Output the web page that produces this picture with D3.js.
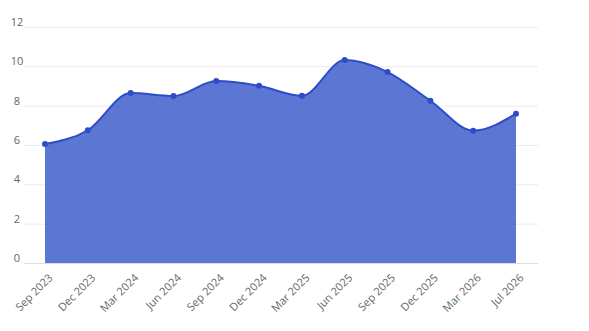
<!DOCTYPE html>
<html>
<head>
<meta charset="utf-8">
<script src="https://cdn.jsdelivr.net/npm/d3@7/dist/d3.min.js"></script>
<style>
  body { margin: 0; background: #fff; }
  text { font-family: "Open Sans", sans-serif; }
</style>
</head>
<body>
<div id="chart"></div>
<script>
// chart data
var months = ["Sep 2023", "Dec 2023", "Mar 2024", "Jun 2024", "Sep 2024", "Dec 2024",
              "Mar 2025", "Jun 2025", "Sep 2025", "Dec 2025", "Mar 2026", "Jul 2026"];
var values = [6.05, 6.75, 8.64, 8.49, 9.25, 9.01, 8.5, 10.32, 9.71, 8.25, 6.73, 7.59];
var yTicks = [0, 2, 4, 6, 8, 10, 12];

var width = 589, height = 331;
var margin = {top: 27, right: 51, bottom: 68, left: 24};

var svg = d3.select("#chart").append("svg")
    .attr("width", width)
    .attr("height", height);

var x = d3.scalePoint()
    .domain(months)
    .range([45, 516]);

var y = d3.scaleLinear()
    .domain([0, 12])
    .range([height - margin.bottom, margin.top]);

// grid lines
var grid = svg.append("g").attr("class", "grid");
grid.selectAll("line")
    .data(yTicks)
    .enter().append("line")
    .attr("x1", margin.left)
    .attr("x2", width - margin.right)
    .attr("y1", function(d) { return y(d) + 0.5; })
    .attr("y2", function(d) { return y(d) + 0.5; })
    .attr("stroke", function(d) { return d == 0 ? "#dcdce4" : "#ebebf0"; })
    .attr("stroke-width", 1);

grid.selectAll("text")
    .data(yTicks)
    .enter().append("text")
    .attr("x", 17)
    .attr("y", function(d) { return y(d) - 1; })
    .attr("text-anchor", "middle")
    .attr("font-size", 11)
    .attr("fill", "#666")
    .text(function(d) { return d; });

var pts = months.map(function(m, i) { return {m: m, v: values[i]}; });

var area = d3.area()
    .x(function(d) { return x(d.m); })
    .y0(y(0))
    .y1(function(d) { return y(d.v); })
    .curve(d3.curveMonotoneX);

var line = d3.line()
    .x(function(d) { return x(d.m); })
    .y(function(d) { return y(d.v); })
    .curve(d3.curveMonotoneX);

svg.append("path")
    .datum(pts)
    .attr("d", area)
    .attr("fill", "#2e4fc8")
    .attr("fill-opacity", 0.78);

svg.append("path")
    .datum(pts)
    .attr("d", line)
    .attr("fill", "none")
    .attr("stroke", "#2e4cc6")
    .attr("stroke-width", 2);

svg.selectAll("circle.pt")
    .data(pts)
    .enter().append("circle")
    .attr("class", "pt")
    .attr("cx", function(d) { return x(d.m); })
    .attr("cy", function(d) { return y(d.v); })
    .attr("r", 3)
    .attr("fill", "#2e4cc6");

// x labels
svg.append("g")
    .selectAll("text")
    .data(months)
    .enter().append("text")
    .attr("transform", function(d) {
        return "translate(" + (x(d) + 3) + "," + (y(0) + 10) + ") rotate(-45)";
    })
    .attr("text-anchor", "end")
    .attr("dy", "0.7em")
    .attr("font-size", 11)
    .attr("fill", "#666")
    .text(function(d) { return d; });
</script>
</body>
</html>
